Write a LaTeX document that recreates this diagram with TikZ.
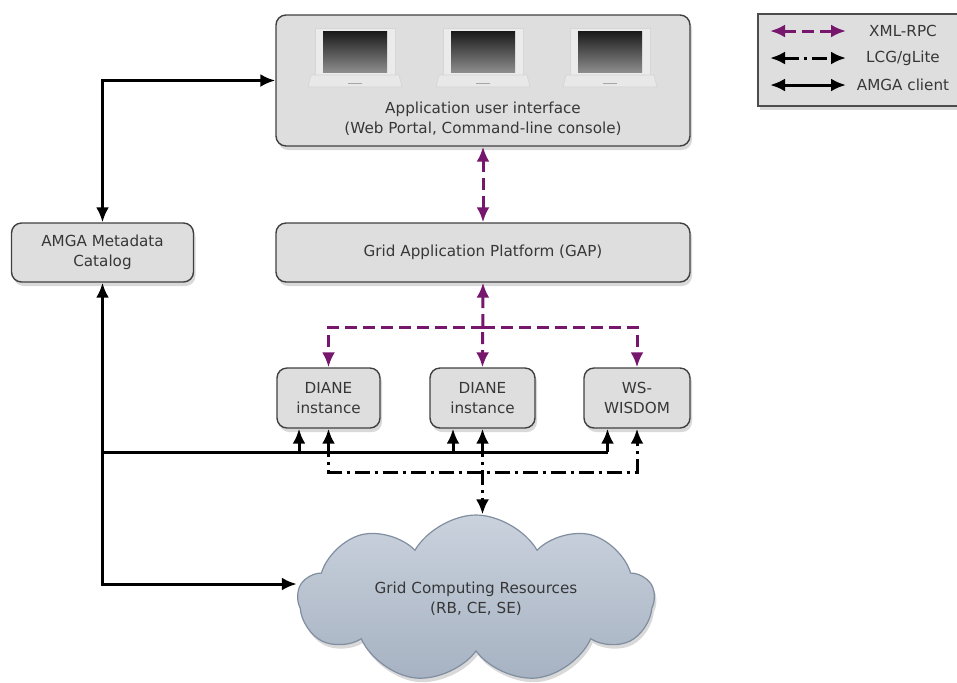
\documentclass[tikz,border=0pt]{standalone}
\usepackage{fontspec}
\setmainfont{DejaVu Sans}
\usetikzlibrary{arrows.meta,shadows,shapes.symbols,calc}

\definecolor{boxgray}{RGB}{222,222,222}
\definecolor{textgray}{RGB}{55,55,55}
\definecolor{rpcpurple}{RGB}{118,22,108}
\definecolor{cloudtop}{RGB}{202,210,221}
\definecolor{cloudbot}{RGB}{166,178,194}
\definecolor{cloudline}{RGB}{128,142,160}

\begin{document}
\begin{tikzpicture}[x=0.5pt,y=-0.5pt,
  >={Latex[length=7.5pt,width=6.5pt]},
  box/.style={draw=black!75,line width=0.7pt,rounded corners=5pt,fill=boxgray,
    drop shadow={shadow xshift=1pt,shadow yshift=-2pt,opacity=0.3},
    align=center,text=textgray,inner sep=0pt,font=\fontsize{7.6}{10}\selectfont},
  legtext/.style={text=textgray,font=\fontsize{7.6}{10}\selectfont},
  amga/.style={line width=1.5pt,black},
  lcg/.style={line width=1.5pt,black,dash pattern=on 7.5pt off 2.5pt on 1.5pt off 2.5pt},
  rpc/.style={line width=1.5pt,rpcpurple,dash pattern=on 6pt off 3pt}]

  \useasboundingbox (0,0) rectangle (957,682);

  % boxes
  \node[box,minimum width=207pt,minimum height=65.5pt] (ui) at (483,80.5) {};
  \node[box,minimum width=207pt,minimum height=29.5pt] (gap) at (483,252.5) {Grid Application Platform (GAP)};
  \node[box,minimum width=91pt,minimum height=29.5pt] (amga) at (102.5,252.5) {AMGA Metadata\\Catalog};
  \node[box,minimum width=51.5pt,minimum height=30pt] (diane1) at (328.5,398) {DIANE\\instance};
  \node[box,minimum width=52.5pt,minimum height=30pt] (diane2) at (482.5,398) {DIANE\\instance};
  \node[box,minimum width=53pt,minimum height=30pt] (wisdom) at (637,398) {WS-\\WISDOM};

  \node[anchor=south,align=center,text=textgray,font=\fontsize{7.6}{10}\selectfont]
    (uitext) at ($(ui.south)+(0,-4)$) {Application user interface\\(Web Portal, Command-line console)};

  % laptops
  \foreach \lx in {355,483,610} {
    \fill[black!8,draw=black!16,line width=0.3pt] (\lx-40,28) rectangle (\lx+40,75);
    \shade[shading angle=225,top color=black!90,bottom color=black!45] (\lx-32,31) rectangle (\lx+32,72);
    \fill[black!9,draw=black!17,line width=0.3pt] (\lx-44,75) -- (\lx+44,75) -- (\lx+47,87) -- (\lx-47,87) -- cycle;
    \draw[black!35,line width=0.5pt] (\lx-7,83) -- (\lx+7,83);
  }

  % cloud
  \node[cloud,cloud puffs=9,cloud puff arc=120,cloud ignores aspect,
    minimum width=178pt,minimum height=84pt,draw=cloudline,line width=0.6pt,
    top color=cloudtop,bottom color=cloudbot,
    drop shadow={shadow xshift=1pt,shadow yshift=-2pt,opacity=0.3},
    align=center,text=textgray,font=\fontsize{7.6}{10}\selectfont]
    (grid) at (476,599) {Grid Computing Resources\\(RB, CE, SE)};

  % legend
  \node[draw=black!70,line width=0.6pt,fill=boxgray,minimum width=103.5pt,minimum height=46pt,
    drop shadow={shadow xshift=1pt,shadow yshift=-2pt,opacity=0.3}] (legend) at (861.5,60) {};
  \foreach \sty/\txt [count=\i] in {rpc/XML-RPC,lcg/{LCG/gLite},amga/AMGA client} {
    \draw[\sty,<->] (770,4+27*\i) -- (846,4+27*\i);
    \node[legtext] (leg\i) at (903,4+27*\i) {\txt};
  }

  % AMGA client
  \coordinate (abus) at (102.5,452);
  \draw[amga,<->] (amga.north) |- (ui.west);
  \draw[amga,<->] (amga.south) |- ($(grid.west)+(0,-15)$);
  \draw[amga] (abus) -- ($(wisdom.south |- abus)+(-29.5,0)$);
  \foreach \n in {diane1,diane2,wisdom}
    \draw[amga,->] ($(\n.south |- abus)+(-29.5,0)$) -- ($(\n.south)+(-29.5,0)$);

  % LCG/gLite
  \coordinate (lbus) at (482.5,472);
  \draw[lcg,<->] (diane1.south) |- (lbus) -| (wisdom.south);
  \draw[lcg,<->] (diane2.south) -- (diane2.south |- grid.north);

  % XML-RPC
  \coordinate (rbus) at (482.5,327);
  \draw[rpc,<->] (ui.south) -- (gap.north);
  \draw[rpc,<->] (gap.south) -- (diane2.north);
  \draw[rpc,->] (rbus) -| (diane1.north);
  \draw[rpc,->] (rbus) -| (wisdom.north);

\end{tikzpicture}
\end{document}
